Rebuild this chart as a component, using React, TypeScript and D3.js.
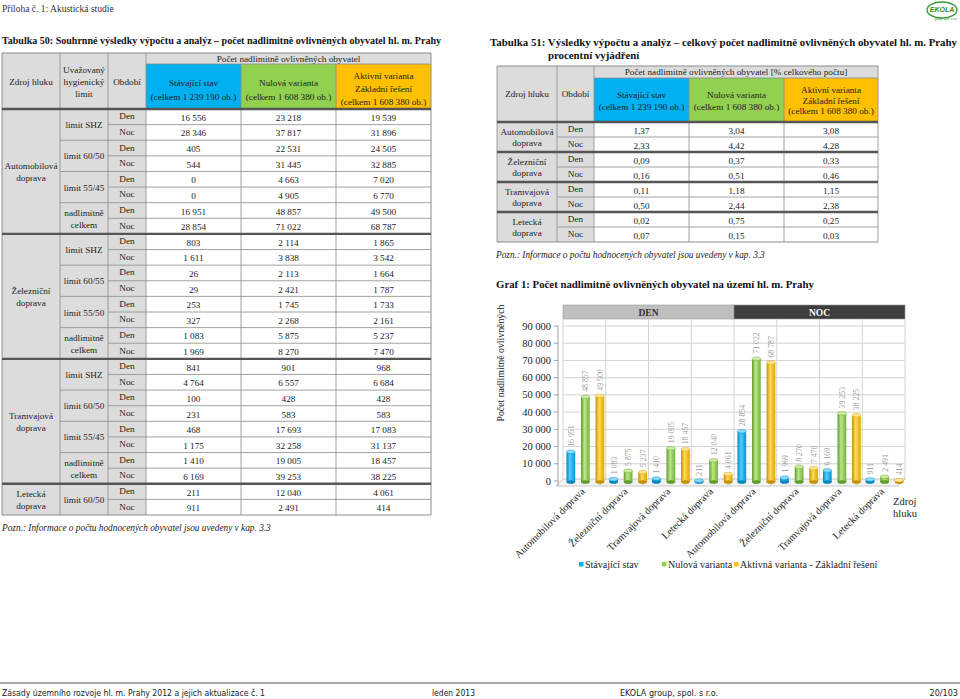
import React from 'react';
import * as d3 from 'd3';

const SERIF = "'Liberation Serif', 'Times New Roman', serif";
const NARROW = "'Liberation Sans Narrow', 'DejaVu Sans Condensed', sans-serif";

// ---------- data ----------
const sourceLines = [["Automobilová", "doprava"], ["Železniční", "doprava"], ["Tramvajová", "doprava"], ["Letecká", "doprava"]];
const sources = ["Automobilová doprava", "Železniční doprava", "Tramvajová doprava", "Letecká doprava"];
const limitsT50 = [
  ["limit SHZ", "limit 60/50", "limit 55/45", "nadlimitně celkem"],
  ["limit SHZ", "limit 60/55", "limit 55/50", "nadlimitně celkem"],
  ["limit SHZ", "limit 60/50", "limit 55/45", "nadlimitně celkem"],
  ["limit 60/50"],
];
const periods = ["Den", "Noc"];
const t50Stav = [16556, 28346, 405, 544, 0, 0, 16951, 28854, 803, 1611, 26, 29, 253, 327, 1083, 1969, 841, 4764, 100, 231, 468, 1175, 1410, 6169, 211, 911];
const t50Nul = [23218, 37817, 22531, 31445, 4663, 4905, 48857, 71022, 2114, 3838, 2113, 2421, 1745, 2268, 5875, 8270, 901, 6557, 428, 583, 17693, 32258, 19005, 39253, 12040, 2491];
const t50Akt = [19539, 31896, 24505, 32885, 7020, 6770, 49500, 68787, 1865, 3542, 1664, 1787, 1733, 2161, 5237, 7470, 968, 6684, 428, 583, 17083, 31137, 18457, 38225, 4061, 414];

const t51Stav = [1.37, 2.33, 0.09, 0.16, 0.11, 0.5, 0.02, 0.07];
const t51Nul = [3.04, 4.42, 0.37, 0.51, 1.18, 2.44, 0.75, 0.15];
const t51Akt = [3.08, 4.28, 0.33, 0.46, 1.15, 2.38, 0.25, 0.03];

const chartCategories = [...sources, ...sources];
const chartStav = [16951, 1083, 1410, 211, 28854, 1969, 6169, 911];
const chartNul = [48857, 5875, 19005, 12040, 71022, 8270, 39253, 2491];
const chartAkt = [49500, 5237, 18457, 4061, 68787, 7470, 38225, 414];
const yTicks = [0, 10000, 20000, 30000, 40000, 50000, 60000, 70000, 80000, 90000];
const seriesNames = ["Stávající stav", "Nulová varianta", "Aktivná varianta - Základní řešení"];
const panels = ["DEN", "NOC"];

const headerCols = [
  ["Stávající stav", "(celkem 1 239 190 ob.)"],
  ["Nulová varianta", "(celkem 1 608 380 ob.)"],
  ["Aktivní varianta", "Základní řešení", "(celkem 1 608 380 ob.)"],
];

// ---------- styles ----------
const COLORS = ["#00b0f0", "#92d050", "#ffc000"];
const GRAD = [
  ["#0786bb", "#4fcfff", "#0096cf"],
  ["#5f9a2a", "#bce68a", "#74b13a"],
  ["#c48f00", "#ffdb5c", "#e0a500"],
];
const TOPS = ["#8fdcff", "#cdeea6", "#ffe699"];
const GRAY = "#dcdcdc";
const LINE = "#8c8c8c";
const THICK = "#555";
const FS = 9.2;

const fmtInt = (v: number) => d3.format(",")(v).replace(/,/g, " ");
const fmtPct = (v: number) => v.toFixed(2).replace(".", ",");

function Table50() {
  const cols = [2, 60, 108, 146, 241, 336, 431];
  const top = 53, h1 = 64, hb = 109, bottom = 515;
  const nRows = 26;
  const rowH = (bottom - hb) / nRows;
  const y = d3.scaleLinear().domain([0, nRows]).range([hb, bottom]);
  const groupStarts = [0, 8, 16, 24, 26];
  const series = [t50Stav, t50Nul, t50Akt];
  const els: any[] = [];
  els.push(<rect key="bg" x={cols[0]} y={top} width={cols[3] - cols[0]} height={bottom - top} fill={GRAY} />);
  els.push(<rect key="bgh" x={cols[3]} y={top} width={cols[6] - cols[3]} height={h1 - top} fill={GRAY} />);
  els.push(<rect key="bgd" x={cols[3]} y={hb} width={cols[6] - cols[3]} height={bottom - hb} fill="#fff" />);
  COLORS.forEach((c, i) => els.push(<rect key={"hc" + i} x={cols[3 + i]} y={h1} width={cols[4 + i] - cols[3 + i]} height={hb - h1} fill={c} />));
  for (let i = 1; i < nRows; i++) {
    if (groupStarts.includes(i)) continue;
    const x0 = i % 2 === 0 ? cols[1] : cols[2];
    els.push(<line key={"rl" + i} x1={x0} x2={cols[6]} y1={y(i)} y2={y(i)} stroke={LINE} strokeWidth={0.8} />);
  }
  cols.forEach((cx, i) => {
    const y0 = i >= 4 && i <= 5 ? h1 : top;
    els.push(<line key={"vl" + i} x1={cx} x2={cx} y1={y0} y2={bottom} stroke={LINE} strokeWidth={i === 0 || i === 6 ? 1 : 0.8} />);
  });
  els.push(<line key="h1" x1={cols[3]} x2={cols[6]} y1={h1} y2={h1} stroke={LINE} strokeWidth={0.8} />);
  els.push(<line key="top" x1={cols[0]} x2={cols[6]} y1={top} y2={top} stroke={LINE} strokeWidth={1} />);
  els.push(<line key="bot" x1={cols[0]} x2={cols[6]} y1={bottom} y2={bottom} stroke={LINE} strokeWidth={1} />);
  groupStarts.slice(0, 4).forEach((g, i) => els.push(<line key={"th" + i} x1={cols[0]} x2={cols[6]} y1={y(g)} y2={y(g)} stroke={THICK} strokeWidth={2.4} />));
  const t = (key: string, x: number, yy: number, s: string) => (
    <text key={key} x={x} y={yy} textAnchor="middle" fontSize={FS} fill="#222">{s}</text>
  );
  els.push(t("hz", (cols[0] + cols[1]) / 2, 85, "Zdroj hluku"));
  ["Uvažovaný", "hygienický", "limit"].forEach((s, i) => els.push(t("hu" + i, (cols[1] + cols[2]) / 2, 73 + i * 12, s)));
  els.push(t("ho", (cols[2] + cols[3]) / 2, 85, "Období"));
  els.push(t("hp", (cols[3] + cols[6]) / 2, 61.5, "Počet nadlimitně ovlivněných obyvatel"));
  headerCols.forEach((lines, i) => {
    const cx = (cols[3 + i] + cols[4 + i]) / 2;
    const ys = lines.length === 2 ? [86, 100] : [79, 92, 105];
    lines.forEach((s, j) => els.push(t("hc" + i + j, cx, ys[j], s)));
  });
  sourceLines.forEach((lines, g) => {
    const c = (y(groupStarts[g]) + y(groupStarts[g + 1])) / 2;
    lines.forEach((s, j) => els.push(t("sl" + g + j, (cols[0] + cols[1]) / 2, c - 2.5 + j * 12, s)));
    limitsT50[g].forEach((lim, k) => {
      const r0 = groupStarts[g] + k * 2;
      const cc = (y(r0) + y(r0 + 2)) / 2;
      const parts = lim === "nadlimitně celkem" ? ["nadlimitně", "celkem"] : [lim];
      parts.forEach((s, j) => els.push(t("lm" + g + k + j, (cols[1] + cols[2]) / 2, parts.length === 1 ? cc + 3.5 : cc - 2.5 + j * 12, s)));
    });
  });
  for (let i = 0; i < nRows; i++) {
    const c = y(i) + rowH / 2;
    els.push(t("pd" + i, (cols[2] + cols[3]) / 2, c + 2.5, periods[i % 2]));
    series.forEach((arr, s) => els.push(t("v" + i + s, (cols[3 + s] + cols[4 + s]) / 2, c + 4, fmtInt(arr[i]))));
  }
  return <g fontFamily={SERIF}>{els}</g>;
}

function Table51() {
  const cols = [497, 557, 594, 689, 784, 878];
  const top = 66, h1 = 78, hb = 122, bottom = 242;
  const nRows = 8;
  const y = d3.scaleLinear().domain([0, nRows]).range([hb, bottom]);
  const rowH = (bottom - hb) / nRows;
  const series = [t51Stav, t51Nul, t51Akt];
  const els: any[] = [];
  els.push(<rect key="bg" x={cols[0]} y={top} width={cols[2] - cols[0]} height={bottom - top} fill={GRAY} />);
  els.push(<rect key="bgh" x={cols[2]} y={top} width={cols[5] - cols[2]} height={h1 - top} fill={GRAY} />);
  els.push(<rect key="bgd" x={cols[2]} y={hb} width={cols[5] - cols[2]} height={bottom - hb} fill="#fff" />);
  COLORS.forEach((c, i) => els.push(<rect key={"hc" + i} x={cols[2 + i]} y={h1} width={cols[3 + i] - cols[2 + i]} height={hb - h1} fill={c} />));
  for (let i = 1; i < nRows; i += 2) {
    els.push(<line key={"rl" + i} x1={cols[1]} x2={cols[5]} y1={y(i)} y2={y(i)} stroke={LINE} strokeWidth={0.8} />);
  }
  cols.forEach((cx, i) => {
    const y0 = i >= 3 && i <= 4 ? h1 : top;
    els.push(<line key={"vl" + i} x1={cx} x2={cx} y1={y0} y2={bottom} stroke={LINE} strokeWidth={0.8} />);
  });
  els.push(<line key="h1" x1={cols[2]} x2={cols[5]} y1={h1} y2={h1} stroke={LINE} strokeWidth={0.8} />);
  els.push(<line key="top" x1={cols[0]} x2={cols[5]} y1={top} y2={top} stroke={LINE} strokeWidth={1} />);
  els.push(<line key="bot" x1={cols[0]} x2={cols[5]} y1={bottom} y2={bottom} stroke={LINE} strokeWidth={1} />);
  [0, 2, 4, 6].forEach((g, i) => els.push(<line key={"th" + i} x1={cols[0]} x2={cols[5]} y1={y(g)} y2={y(g)} stroke={THICK} strokeWidth={2.4} />));
  const t = (key: string, x: number, yy: number, s: string) => (
    <text key={key} x={x} y={yy} textAnchor="middle" fontSize={FS} fill="#222">{s}</text>
  );
  els.push(t("hz", (cols[0] + cols[1]) / 2, 97, "Zdroj hluku"));
  els.push(t("ho", (cols[1] + cols[2]) / 2, 97, "Období"));
  els.push(t("hp", (cols[2] + cols[5]) / 2, 75, "Počet nadlimitně ovlivněných obyvatel [% celkového počtu]"));
  headerCols.forEach((lines, i) => {
    const cx = (cols[2 + i] + cols[3 + i]) / 2;
    const ys = lines.length === 2 ? [98, 109.5] : [93, 103.5, 114];
    lines.forEach((s, j) => els.push(t("hc" + i + j, cx, ys[j], s)));
  });
  sourceLines.forEach((lines, g) => {
    const c = (y(g * 2) + y(g * 2 + 2)) / 2;
    lines.forEach((s, j) => els.push(t("sl" + g + j, (cols[0] + cols[1]) / 2, c - 2 + j * 11, s)));
  });
  for (let i = 0; i < nRows; i++) {
    const c = y(i) + rowH / 2;
    els.push(t("pd" + i, (cols[1] + cols[2]) / 2, c + 2.5, periods[i % 2]));
    series.forEach((arr, s) => els.push(t("v" + i + s, (cols[2 + s] + cols[3 + s]) / 2, c + 4, fmtPct(arr[i]))));
  }
  return <g fontFamily={SERIF}>{els}</g>;
}

function Chart() {
  const x = d3.scaleBand<number>().domain(d3.range(chartCategories.length)).range([563, 905]);
  const inner = d3.scaleBand<number>().domain([0, 1, 2]).range([2, x.bandwidth()]).paddingInner(0.4).paddingOuter(0.1);
  const y = d3.scaleLinear().domain([0, 90000]).range([481, 326]);
  const plotTop = 319;
  const series = [chartStav, chartNul, chartAkt];
  const floorBack = y(0) - 2, floorFront = y(0) + 5, skew = 7;
  const bw = inner.bandwidth();
  return (
    <g fontFamily={SERIF}>
      <defs>
        {GRAD.map((g, i) => (
          <linearGradient key={i} id={"bar" + i} x1="0" x2="1" y1="0" y2="0">
            <stop offset="0%" stopColor={g[0]} />
            <stop offset="40%" stopColor={g[1]} />
            <stop offset="100%" stopColor={g[2]} />
          </linearGradient>
        ))}
      </defs>
      {panels.map((p, i) => {
        const x0 = x(i * 4)!, x1 = x(i * 4 + 3)! + x.bandwidth();
        return (
          <g key={p}>
            <rect x={x0} y={305} width={x1 - x0} height={plotTop - 305} fill={i === 0 ? "#bfbfbf" : "#3d3d3d"} stroke="#9a9a9a" strokeWidth={0.6} />
            <text x={(x0 + x1) / 2} y={315.5} textAnchor="middle" fontSize={9.5} fontWeight="bold" fill={i === 0 ? "#333" : "#fff"}>{p}</text>
          </g>
        );
      })}
      {yTicks.slice(1).map(v => (
        <line key={"g" + v} x1={563} x2={905} y1={y(v)} y2={y(v)} stroke="#d4d4d4" strokeWidth={1} />
      ))}
      {d3.range(chartCategories.length + 1).map(i => {
        const xx = i < chartCategories.length ? x(i)! : 905;
        return <line key={"vg" + i} x1={xx} x2={xx} y1={plotTop} y2={floorBack} stroke="#d4d4d4" strokeWidth={1} />;
      })}
      <polygon points={`563,${floorBack} 905,${floorBack} ${905 - skew},${floorFront} ${563 - skew},${floorFront}`} fill="#f3f3f3" stroke="#bdbdbd" strokeWidth={0.8} />
      {d3.range(1, chartCategories.length).map(i => (
        <line key={"fl" + i} x1={x(i)!} x2={x(i)! - skew} y1={floorBack} y2={floorFront} stroke="#bdbdbd" strokeWidth={0.8} />
      ))}
      <line x1={558} x2={558} y1={y(90000)} y2={floorFront} stroke="#8c8c8c" strokeWidth={0.8} />
      {yTicks.map(v => (
        <g key={"t" + v}>
          <line x1={554} x2={558} y1={y(v)} y2={y(v)} stroke="#8c8c8c" strokeWidth={0.8} />
          <text x={551} y={y(v) + 3.5} textAnchor="end" fontSize={10.5} fill="#222">{fmtInt(v)}</text>
        </g>
      ))}
      <text transform={`translate(504,363) rotate(-90)`} textAnchor="middle" fontSize={9.8} fill="#222">Počet nadlimitně ovlivněných</text>
      {chartCategories.map((c, ci) => (
        <g key={"c" + ci}>
          {series.map((arr, si) => {
            const v = arr[ci];
            const bx = x(ci)! + inner(si)!;
            const by = y(v);
            const base = y(0) + 1;
            const ry = 1.8;
            return (
              <g key={si}>
                <rect x={bx} y={by} width={bw} height={Math.max(0.5, base - by)} fill={`url(#bar${si})`} />
                <ellipse cx={bx + bw / 2} cy={base} rx={bw / 2} ry={ry} fill={GRAD[si][0]} />
                <ellipse cx={bx + bw / 2} cy={by} rx={bw / 2} ry={ry} fill={TOPS[si]} stroke={GRAD[si][2]} strokeWidth={0.5} />
                <text transform={`translate(${bx + bw / 2 + 3},${by - 5}) rotate(-90)`} fontSize={7.8} fill="#9a9a9a">{fmtInt(v)}</text>
              </g>
            );
          })}
          <text transform={`translate(${x(ci)! + x.bandwidth() / 2 + 1},${492}) rotate(-45)`} textAnchor="end" fontSize={10.2} fill="#222">{c}</text>
        </g>
      ))}
      <text x={893} y={505} fontSize={10.5} fill="#222">Zdroj</text>
      <text x={893} y={517} fontSize={10.5} fill="#222">hluku</text>
      {seriesNames.map((s, i) => {
        const lx = [579, 662, 734][i];
        return (
          <g key={"lg" + i}>
            <rect x={lx} y={562} width={4.5} height={4.5} fill={COLORS[i]} />
            <text x={lx + 6} y={567.5} fontSize={10} fill="#222">{s}</text>
          </g>
        );
      })}
    </g>
  );
}

export default function App() {
  return (
    <div style={{ position: 'absolute', left: 0, top: 0, width: 960, height: 699, background: '#fff' }}>
      <svg width={960} height={699} style={{ display: 'block' }} fontFamily={SERIF}>
        <rect width={960} height={699} fill="#fff" />
        <text x={2} y={12} fontSize={9.5} fill="#333">Příloha č. 1: Akustická studie</text>
        <g>
          <ellipse cx={942} cy={10} rx={15} ry={8} fill="none" stroke="#3a9a3a" strokeWidth={1.4} />
          <text x={942} y={12} textAnchor="middle" fontSize={7} fontWeight="bold" fontStyle="italic" fill="#2e8b2e" fontFamily="'Liberation Sans', sans-serif">EKOLA</text>
          <text x={946} y={20} textAnchor="middle" fontSize={3} fill="#2e8b2e" fontFamily="'Liberation Sans', sans-serif">group, spol. s r.o.</text>
        </g>
        <text x={2} y={44} fontSize={10.8} fontWeight="bold" fill="#111" textLength={439} lengthAdjust="spacingAndGlyphs">Tabulka 50: Souhrnné výsledky výpočtu a analýz – počet nadlimitně ovlivněných obyvatel hl. m. Prahy</text>
        <Table50 />
        <text x={2} y={531} fontSize={9.3} fontStyle="italic" fill="#222">Pozn.: Informace o počtu hodnocených obyvatel jsou uvedeny v kap. 3.3</text>
        <text x={490} y={46} fontSize={10.8} fontWeight="bold" fill="#111" textLength={467} lengthAdjust="spacingAndGlyphs">Tabulka 51: Výsledky výpočtu a analýz – celkový počet nadlimitně ovlivněných obyvatel hl. m. Prahy</text>
        <text x={548} y={59} fontSize={10.8} fontWeight="bold" fill="#111">procentní vyjádření</text>
        <Table51 />
        <text x={496} y={258} fontSize={9.3} fontStyle="italic" fill="#222">Pozn.: Informace o počtu hodnocených obyvatel jsou uvedeny v kap. 3.3</text>
        <text x={496} y={288} fontSize={10.8} fontWeight="bold" fill="#111">Graf 1: Počet nadlimitně ovlivněných obyvatel na území hl. m. Prahy</text>
        <Chart />
        <rect x={0} y={682} width={960} height={2} fill="#a6a6a6" />
        <g fontFamily={NARROW} fontSize={9} fill="#222">
          <text x={2} y={696} textLength={263} lengthAdjust="spacingAndGlyphs">Zásady územního rozvoje hl. m. Prahy 2012 a jejich aktualizace č. 1</text>
          <text x={432} y={696} textLength={43} lengthAdjust="spacingAndGlyphs">leden 2013</text>
          <text x={620} y={696} textLength={98} lengthAdjust="spacingAndGlyphs">EKOLA group, spol. s r.o.</text>
          <text x={958} y={696} textAnchor="end">20/103</text>
        </g>
      </svg>
    </div>
  );
}
